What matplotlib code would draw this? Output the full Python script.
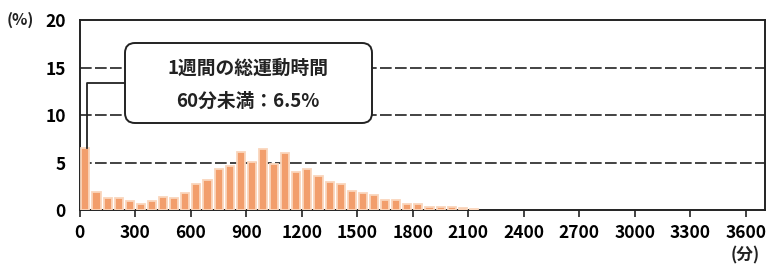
# weekly total exercise time distribution (histogram, 60-min bins)

import matplotlib as mpl
import matplotlib.pyplot as plt
from matplotlib.patches import FancyBboxPatch
import numpy as np

mpl.use("Agg")
plt.rcParams["font.family"] = ["Noto Sans CJK JP", "DejaVu Sans"]

# share (%) of people per 60-minute bin, starting at 0-60 min
bin_width = 60
shares = [
    6.5, 1.9, 1.3, 1.3, 0.9, 0.6, 0.9, 1.4, 1.3, 1.8,
    2.7, 3.2, 4.3, 4.6, 6.1, 5.1, 6.4, 4.8, 6.0, 4.0,
    4.3, 3.6, 2.9, 2.7, 2.0, 1.8, 1.6, 1.1, 1.1, 0.6,
    0.6, 0.35, 0.35, 0.3, 0.2, 0.15,
]
xtick_values = [*range(0, 3601, 300)]
ytick_values = [0, 5, 10, 15, 20]
box_title = "1週間の総運動時間"
box_value = "60分未満：6.5%"

bar_color = "#F29E6C"
edge_color = "#FAD6BC"
ink = "#222222"

fig = plt.figure(figsize=(7.68, 2.67), dpi=100)
ax = fig.add_axes([0.104, 0.2135, 0.892, 0.7115])

centers = np.arange(len(shares)) * bin_width + bin_width / 2
ax.bar(centers, shares, width=44, color=bar_color, edgecolor=edge_color,
       linewidth=1.3, zorder=3)

for yv in [5, 10, 15]:
    ax.axhline(yv, color=ink, linewidth=1.2, linestyle=(0, (7, 2)), zorder=1)

ax.set_xlim(0, 3703)
ax.set_ylim(0, 20)
ax.set_xticks(xtick_values)
ax.set_xticklabels([str(v) for v in xtick_values])
ax.set_yticks(ytick_values)
ax.set_yticklabels([str(v) for v in ytick_values])
ax.tick_params(axis="x", direction="out", length=5, width=1.2, color=ink,
               labelsize=12.5, pad=5)
ax.tick_params(axis="y", length=0, labelsize=12.5, pad=10)
for lab in ax.get_xticklabels() + ax.get_yticklabels():
    lab.set_fontweight("bold")
for sp in ax.spines.values():
    sp.set_color(ink)
    sp.set_linewidth(1.4)

# unit labels
fig.text(20 / 768, 1 - 20 / 267, "(%)", ha="center", va="center",
         fontsize=11.5, fontweight="bold", color=ink)
fig.text(745 / 768, 1 - 255 / 267, "(分)", ha="center", va="center",
         fontsize=12, fontweight="bold", color=ink)

# callout box (in inches so the corners stay round)
r = 0.1
bx0, bx1, by0, by1 = 1.25, 3.72, 1.44, 2.24
box = FancyBboxPatch((bx0 + r, by0 + r), bx1 - bx0 - 2 * r, by1 - by0 - 2 * r,
                     boxstyle=f"round,pad={r}", transform=fig.dpi_scale_trans,
                     facecolor="white", edgecolor=ink, linewidth=1.4, zorder=5)
fig.add_artist(box)
fig.text(248 / 768, 1 - 68 / 267, box_title, ha="center", va="center",
         fontsize=13.5, fontweight="bold", color=ink, zorder=6)
fig.text(248 / 768, 1 - 101 / 267, box_value, ha="center", va="center",
         fontsize=13.5, fontweight="bold", color=ink, zorder=6)

# connector from the first bar to the box
ax.plot([38, 38, 243], [shares[0], 13.4, 13.4], color=ink, linewidth=1.3,
        zorder=4, clip_on=False)

fig.savefig("out.png", dpi=100)
